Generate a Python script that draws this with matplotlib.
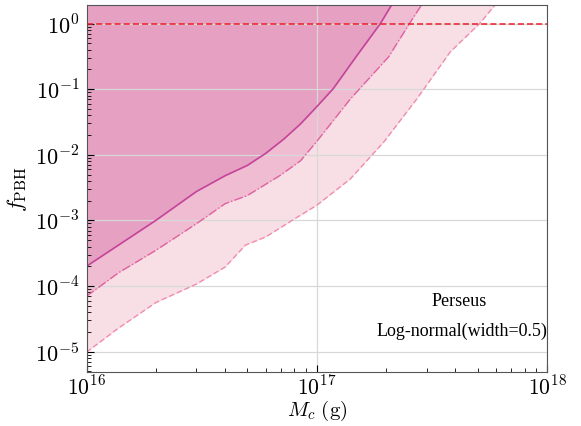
import matplotlib

matplotlib.use("Agg")
import matplotlib.pyplot as plt
from matplotlib.ticker import FuncFormatter
import numpy as np

plt.rcParams["font.family"] = ["Liberation Serif", "DejaVu Serif"]
plt.rcParams["mathtext.fontset"] = "cm"

# constraint curves (mass in g, f_PBH)
mass_solid = [1e16, 2e16, 3e16, 4e16, 5e16, 6e16, 7.2e16, 8.5e16, 1.0e17, 1.18e17, 1.49e17, 1.89e17, 2.12e17, 2.25e17]
f_solid = [2.0e-4, 1.0e-3, 2.75e-3, 4.8e-3, 6.9e-3, 1.05e-2, 1.74e-2, 2.95e-2, 5.4e-2, 0.102, 0.32, 1.0, 1.95, 3.0]

mass_dashdot = [1e16, 1.38e16, 2e16, 3e16, 4e16, 5e16, 6.9e16, 8.5e16, 1.0e17, 1.4e17, 2.05e17, 2.55e17, 2.86e17, 3.1e17]
f_dashdot = [7.0e-5, 1.6e-4, 3.5e-4, 8.9e-4, 1.8e-3, 2.4e-3, 4.8e-3, 8.1e-3, 1.6e-2, 7.1e-2, 0.31, 1.05, 1.95, 3.0]

mass_dashed = [1e16, 1.38e16, 2e16, 3e16, 4e16, 4.9e16, 6e16, 8.4e16, 1.0e17, 1.4e17, 1.95e17, 2.72e17, 3.8e17, 5.1e17, 5.97e17, 6.6e17]
f_dashed = [9.8e-6, 2.3e-5, 5.6e-5, 1.07e-4, 1.95e-4, 4.2e-4, 5.6e-4, 1.17e-3, 1.7e-3, 4.3e-3, 1.55e-2, 7.1e-2, 0.37, 1.0, 1.95, 3.0]

fig = plt.figure(figsize=(5.81, 4.27), dpi=100)
ax = fig.add_axes([86.5 / 581, 1 - 373 / 427, (547 - 86.5) / 581, (373 - 5.5) / 427])

top = 10.0
ax.fill_between(mass_dashed, f_dashed, top, color="#f8dfe6", lw=0)
ax.fill_between(mass_dashdot, f_dashdot, top, color="#f0bcd2", lw=0)
ax.fill_between(mass_solid, f_solid, top, color="#e5a0c2", lw=0)

ax.plot(mass_dashed, f_dashed, color="#f08cb0", lw=1.0, ls=(0, (4, 2)))
ax.plot(mass_dashdot, f_dashdot, color="#e0629f", lw=1.0, ls="-.")
ax.plot(mass_solid, f_solid, color="#c4449a", lw=1.2)

ax.axhline(1.0, color="#ee1c25", lw=1.1, ls=(0, (4, 2)))

ax.set_xscale("log")
ax.set_yscale("log")
ax.set_xlim(1e16, 1e18)
ax.set_ylim(4.9e-6, 1.95)

pow_fmt = FuncFormatter(lambda v, pos: r"$10^{%d}$" % round(np.log10(v)))
ax.xaxis.set_major_formatter(pow_fmt)
ax.yaxis.set_major_formatter(pow_fmt)

ax.grid(True, which="major", color="#d8d8d8", lw=0.9)
ax.tick_params(which="both", direction="in", top=False, right=False, labelsize=16)
ax.tick_params(which="major", length=5)
ax.tick_params(axis="y", which="major", pad=5)
ax.tick_params(axis="x", which="major", pad=2, labelsize=15.5)
ax.tick_params(which="minor", length=3)
for sp in ax.spines.values():
    sp.set_color("#555555")

ax.set_xlabel(r"$M_c\ (\mathrm{g})$", fontsize=15, va="center")
ax.xaxis.set_label_coords(0.5, -0.104)
ax.set_ylabel(r"$f_{\mathrm{PBH}}$", fontsize=16, labelpad=4)

ax.text(0.81, 0.195, "Perseus", transform=ax.transAxes, ha="center", va="center", fontsize=13)
ax.text(0.815, 0.113, "Log-normal(width=0.5)", transform=ax.transAxes, ha="center", va="center", fontsize=13)

fig.savefig("out.png", dpi=100)
